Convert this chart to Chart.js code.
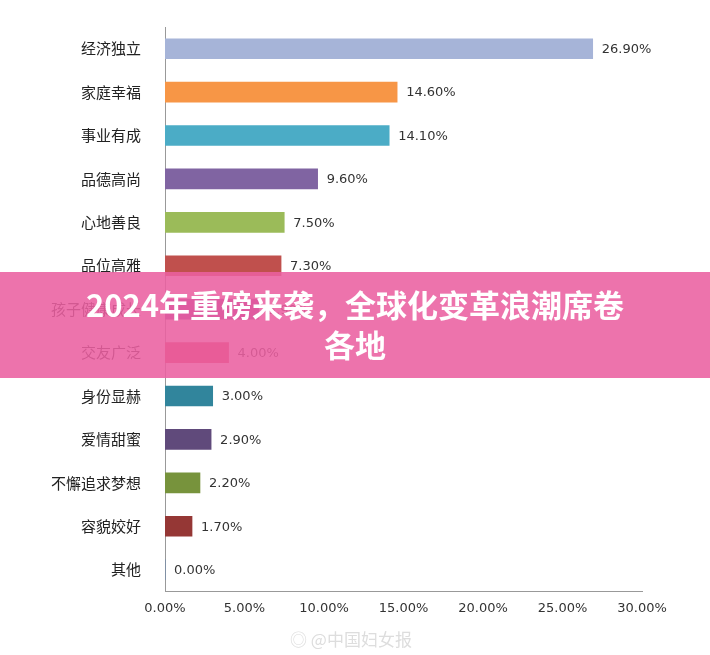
<!DOCTYPE html>
<html lang="zh">
<head>
<meta charset="UTF-8">
<title>2024年重磅来袭</title>
<script src="https://cdn.jsdelivr.net/npm/chart.js"></script>
<style>
    body { margin: 0; background: #fff; font-family: "Noto Sans CJK SC", sans-serif; }
    .wrap { position: relative; width: 710px; height: 655px; }
    .banner {
        position: absolute; left: 0; top: 272px; width: 710px; height: 106px;
        background: rgba(234, 96, 160, 0.88);
        color: #fff; font-weight: bold; font-size: 31px; line-height: 40px;
        text-align: center; box-sizing: border-box; padding: 12px 30px 0;
    }
    .mark { position: absolute; left: 290px; top: 626px; color: #ddd; font-size: 17px; }
</style>
</head>
<body>
<div class="wrap">
    <canvas id="c" width="710" height="655"></canvas>
    <div class="banner">2024年重磅来袭，全球化变革浪潮席卷<br>各地</div>
    <div class="mark">◎ @中国妇女报</div>
</div>
<script>
const categories = ['经济独立', '家庭幸福', '事业有成', '品德高尚', '心地善良', '品位高雅', '孩子健康成长',
    '交友广泛', '身份显赫', '爱情甜蜜', '不懈追求梦想', '容貌姣好', '其他'];
const values = [26.9, 14.6, 14.1, 9.6, 7.5, 7.3, 5.9, 4.0, 3.0, 2.9, 2.2, 1.7, 0.0];
const barColors = ['#A6B4D8', '#F79646', '#4BACC6', '#8064A2', '#9BBB59', '#C0504D', '#8E3E9E',
    '#D8435F', '#31859C', '#604A7B', '#77933C', '#953735', '#4F81BD'];
const xTicks = [0, 5, 10, 15, 20, 25, 30];

const valueLabels = {
    id: 'valueLabels',
    afterDatasetsDraw(chart) {
        const ctx = chart.ctx;
        ctx.save();
        ctx.font = '13px "DejaVu Sans", sans-serif';
        ctx.fillStyle = '#333';
        ctx.textBaseline = 'middle';
        chart.getDatasetMeta(0).data.forEach((bar, i) => {
            ctx.fillText(values[i].toFixed(2) + '%', bar.x + 9, bar.y + 1);
        });
        ctx.restore();
    }
};

new Chart(document.getElementById('c'), {
    type: 'bar',
    data: {
        labels: categories,
        datasets: [{ data: values, backgroundColor: barColors, barThickness: 20 }]
    },
    options: {
        indexAxis: 'y',
        responsive: false,
        animation: false,
        layout: { padding: { left: 8, right: 68, top: 26, bottom: 36 } },
        plugins: { legend: { display: false }, tooltip: { enabled: false } },
        scales: {
            x: {
                min: 0, max: 30,
                afterBuildTicks(axis) { axis.ticks = xTicks.map(v => ({ value: v })); },
                grid: { display: false, drawTicks: true, tickLength: 6, color: '#999' },
                border: { color: '#999' },
                ticks: { color: '#333', font: { size: 13, family: '"DejaVu Sans"' }, callback: v => v.toFixed(2) + '%' }
            },
            y: {
                grid: { display: false, tickLength: 6 },
                border: { color: '#999' },
                ticks: { color: '#222', padding: 18, font: { size: 15, family: '"Noto Sans CJK SC"' } },
                afterFit(axis) { axis.width = 157; }
            }
        }
    },
    plugins: [valueLabels]
});
</script>
</body>
</html>
